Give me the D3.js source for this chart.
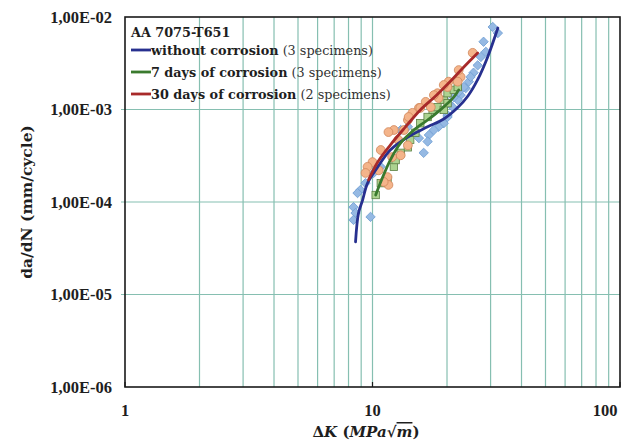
<!DOCTYPE html>
<html>
<head>
<meta charset="utf-8">
<script src="https://cdn.jsdelivr.net/npm/d3@7"></script>
<style>
  body { margin: 0; background: #fff; }
  svg { display: block; }
</style>
</head>
<body>
<div id="chart"></div>
<script>
'use strict';

// measured points, ΔK (MPa√m) vs da/dN (mm/cycle)
var noCorrK = [30.6, 32.1, 28.1, 28.7, 27.4, 26.6, 25.6, 24.5, 23.8, 22.7, 22.1, 21.1, 20.1, 19.4, 18.5, 17.7, 16.9, 16.7, 15.4, 16.1, 14.9, 13.9, 13.0, 10.8, 10.1, 9.37, 8.94, 8.70, 8.38, 8.54, 8.38, 9.82, 24.9, 23.4, 22.3, 21.3, 20.3, 20.1];
var noCorrV = [7.8e-3, 6.7e-3, 5.4e-3, 4.2e-3, 3.7e-3, 3.0e-3, 2.5e-3, 2.0e-3, 1.7e-3, 1.43e-3, 1.27e-3, 1.06e-3, 8.7e-4, 7.1e-4, 6.5e-4, 6.0e-4, 5.3e-4, 4.5e-4, 4.9e-4, 3.4e-4, 5.7e-4, 6.5e-4, 6.0e-4, 2.4e-4, 2.06e-4, 1.6e-4, 1.35e-4, 1.25e-4, 8.8e-5, 7.6e-5, 6.4e-5, 6.9e-5, 2.25e-3, 1.75e-3, 1.55e-3, 1.36e-3, 1.17e-3, 8.3e-4];

var days7K = [10.3, 10.8, 11.5, 12.2, 12.4, 13.0, 13.9, 14.2, 14.9, 15.6, 16.7, 17.5, 18.3, 19.4, 20.1, 21.3, 22.1, 19.4, 20.1];
var days7V = [1.19e-4, 1.6e-4, 1.73e-4, 2.4e-4, 2.84e-4, 3.4e-4, 3.9e-4, 4.7e-4, 5.6e-4, 7.1e-4, 8.3e-4, 9.9e-4, 1.06e-3, 1.27e-3, 1.5e-3, 1.63e-3, 1.75e-3, 9.9e-4, 1.17e-3];

var days30K = [25.4, 22.7, 22.1, 20.3, 20.1, 18.3, 18.5, 16.4, 17.2, 15.4, 14.5, 13.9, 12.2, 11.6, 13.4, 12.7, 13.9, 13.0, 12.0, 10.8, 10.0, 9.55, 9.37, 10.6, 11.5, 11.6, 11.1, 22.3, 19.4, 17.7, 15.6, 14.0];
var days30V = [4.1e-3, 2.25e-3, 2.0e-3, 2.0e-3, 1.75e-3, 1.5e-3, 1.33e-3, 1.21e-3, 1.06e-3, 1.04e-3, 9.2e-4, 7.7e-4, 6.0e-4, 5.7e-4, 6.0e-4, 4.7e-4, 4.1e-4, 3.2e-4, 3.06e-4, 3.65e-4, 2.7e-4, 2.4e-4, 2.06e-4, 2.2e-4, 1.86e-4, 1.53e-4, 1.65e-4, 2.67e-3, 1.84e-3, 1.43e-3, 1.04e-3, 8.3e-4];

// fitted curves
var fitNoCorrK = [8.54, 8.78, 9.12, 9.55, 10.5, 11.8, 13.9, 16.7, 19.4, 22.1, 24.3, 26.6, 29.2, 32.1];
var fitNoCorrV = [3.7e-5, 7.6e-5, 1.05e-4, 1.60e-4, 2.39e-4, 3.65e-4, 5.05e-4, 6.5e-4, 7.9e-4, 1.05e-3, 1.4e-3, 2.1e-3, 3.7e-3, 7.6e-3];
var fit7K = [10.3, 11.0, 11.8, 13.0, 14.7, 16.7, 18.8, 21.3, 22.3];
var fit7V = [1.19e-4, 1.86e-4, 2.84e-4, 4.35e-4, 6.0e-4, 7.7e-4, 9.9e-4, 1.36e-3, 1.63e-3];
var fit30K = [9.63, 10.5, 11.8, 13.6, 15.6, 18.0, 20.7, 23.4, 26.6];
var fit30V = [1.73e-4, 2.71e-4, 4.13e-4, 6.5e-4, 9.9e-4, 1.40e-3, 2.03e-3, 2.88e-3, 4.08e-3];

var xTicks = [1, 10, 100];
var yTicks = [1e-6, 1e-5, 1e-4, 1e-3, 1e-2];
var yTickLabels = ["1,00E-06", "1,00E-05", "1,00E-04", "1,00E-03", "1,00E-02"];

var legendBold = ["without corrosion", "7 days of corrosion", "30 days of corrosion"];
var legendRest = [" (3 specimens)", " (3 specimens)", " (2 specimens)"];
var lineColors = ["#27308f", "#3a7a2e", "#a82a2a"];

var width = 643, height = 444;
var plotL = 125, plotR = 620, plotT = 17, plotB = 387;

var svg = d3.select("#chart").append("svg")
  .attr("width", width).attr("height", height);

var x = d3.scaleLog().domain([1, 100]).range([plotL, plotR]);
var y = d3.scaleLog().domain([1e-6, 1e-2]).range([plotB, plotT]);

var gridColor = "#86bfb1";

// vertical grid at 2..9, 10..90
var vGrid = [];
[1, 10].forEach(function(d){ for (var i = 2; i <= 10; i++) vGrid.push(d * i); });
vGrid = vGrid.filter(function(v){ return v < 100; });

svg.append("g").selectAll("line").data(vGrid).enter().append("line")
  .attr("x1", function(d){ return x(d); }).attr("x2", function(d){ return x(d); })
  .attr("y1", plotT).attr("y2", plotB)
  .attr("stroke", gridColor).attr("stroke-width", 1.2);

svg.append("g").selectAll("line").data(yTicks.slice(1, 4)).enter().append("line")
  .attr("x1", plotL - 4).attr("x2", plotR)
  .attr("y1", function(d){ return y(d); }).attr("y2", function(d){ return y(d); })
  .attr("stroke", gridColor).attr("stroke-width", 1.2);

// frame
svg.append("rect")
  .attr("x", plotL).attr("y", plotT)
  .attr("width", plotR - plotL).attr("height", plotB - plotT)
  .attr("fill", "none").attr("stroke", "#1a1a1a").attr("stroke-width", 1.6);

// small tick marks on the bottom edge
svg.append("g").selectAll("line").data(xTicks).enter().append("line")
  .attr("x1", function(d){ return x(d); }).attr("x2", function(d){ return x(d); })
  .attr("y1", plotB).attr("y2", plotB - 5)
  .attr("stroke", "#1a1a1a").attr("stroke-width", 1.2);

// tick labels
var tickFont = "'Liberation Serif', serif";
svg.append("g").selectAll("text").data(yTicks).enter().append("text")
  .attr("x", plotL - 13).attr("y", function(d){ return y(d) + 5.5; })
  .attr("text-anchor", "end")
  .attr("font-family", tickFont).attr("font-weight", "bold").attr("font-size", 16.5)
  .attr("fill", "#1e1e1e")
  .text(function(d, i){ return yTickLabels[i]; });

svg.append("g").selectAll("text").data(xTicks).enter().append("text")
  .attr("x", function(d, i){ return i === 2 ? x(d) - 15 : x(d); })
  .attr("y", 416)
  .attr("text-anchor", "middle")
  .attr("font-family", tickFont).attr("font-weight", "bold").attr("font-size", 16.5)
  .attr("fill", "#1e1e1e")
  .text(function(d){ return d; });

// axis titles
svg.append("text")
  .attr("transform", "translate(32," + ((plotT + plotB) / 2) + ") rotate(-90)")
  .attr("text-anchor", "middle")
  .attr("font-family", "'DejaVu Serif', serif").attr("font-weight", "bold").attr("font-size", 15.5)
  .attr("fill", "#1e1e1e")
  .text("da/dN (mm/cycle)");

var xt = svg.append("text")
  .attr("x", 366).attr("y", 437)
  .attr("text-anchor", "middle")
  .attr("font-family", "'DejaVu Serif', serif").attr("font-weight", "bold").attr("font-size", 15)
  .attr("fill", "#1e1e1e");
xt.append("tspan").text("Δ");
xt.append("tspan").attr("font-style", "italic").text("K");
xt.append("tspan").text(" (");
xt.append("tspan").attr("font-style", "italic").text("MPa");
xt.append("tspan").text("√");
xt.append("tspan").attr("font-style", "italic").attr("text-decoration", "overline").text("m");
xt.append("tspan").text(")");

// scatter
function pairs(ks, vs){ return ks.map(function(k, i){ return [k, vs[i]]; }); }

var diamond = d3.symbol().type(d3.symbolSquare).size(44);
svg.append("g").selectAll("path").data(pairs(noCorrK, noCorrV)).enter().append("path")
  .attr("d", diamond)
  .attr("transform", function(d){ return "translate(" + x(d[0]) + "," + y(d[1]) + ") rotate(45)"; })
  .attr("fill", "#95b9e3").attr("stroke", "#6f9ed3").attr("stroke-width", 0.8);

svg.append("g").selectAll("rect").data(pairs(days7K, days7V)).enter().append("rect")
  .attr("x", function(d){ return x(d[0]) - 3.7; })
  .attr("y", function(d){ return y(d[1]) - 3.7; })
  .attr("width", 7.4).attr("height", 7.4)
  .attr("fill", "#acd390").attr("stroke", "#5b7f43").attr("stroke-width", 0.8);

svg.append("g").selectAll("circle").data(pairs(days30K, days30V)).enter().append("circle")
  .attr("cx", function(d){ return x(d[0]); })
  .attr("cy", function(d){ return y(d[1]); })
  .attr("r", 4.4)
  .attr("fill", "#f4b48a").attr("stroke", "#d0875a").attr("stroke-width", 0.8);

// fitted lines
var line = d3.line()
  .x(function(d){ return x(d[0]); })
  .y(function(d){ return y(d[1]); })
  .curve(d3.curveCatmullRom);

var fits = [pairs(fitNoCorrK, fitNoCorrV), pairs(fit7K, fit7V), pairs(fit30K, fit30V)];
svg.append("g").selectAll("path").data(fits).enter().append("path")
  .attr("d", line)
  .attr("fill", "none")
  .attr("stroke", function(d, i){ return lineColors[i]; })
  .attr("stroke-width", 2.8)
  .attr("stroke-linecap", "round");

// legend
var legFont = "'DejaVu Serif', serif";
svg.append("text")
  .attr("x", 131).attr("y", 37)
  .attr("font-family", legFont).attr("font-weight", "bold").attr("font-size", 12.8)
  .attr("fill", "#1e1e1e")
  .text("AA 7075-T651");

var legRowY = [50, 72, 94];
var leg = svg.append("g").selectAll("g").data(legendBold).enter().append("g")
  .attr("transform", function(d, i){ return "translate(131," + legRowY[i] + ")"; });
leg.append("line")
  .attr("x1", 0).attr("x2", 20).attr("y1", 0).attr("y2", 0)
  .attr("stroke", function(d, i){ return lineColors[i]; })
  .attr("stroke-width", 2.8);
var lt = leg.append("text")
  .attr("x", 20).attr("y", 4.6)
  .attr("font-family", legFont).attr("font-size", 12.8)
  .attr("fill", "#1e1e1e");
lt.append("tspan").attr("font-weight", "bold").text(function(d){ return d; });
lt.append("tspan").attr("fill", "#333").text(function(d, i){ return legendRest[i]; });
</script>
</body>
</html>
